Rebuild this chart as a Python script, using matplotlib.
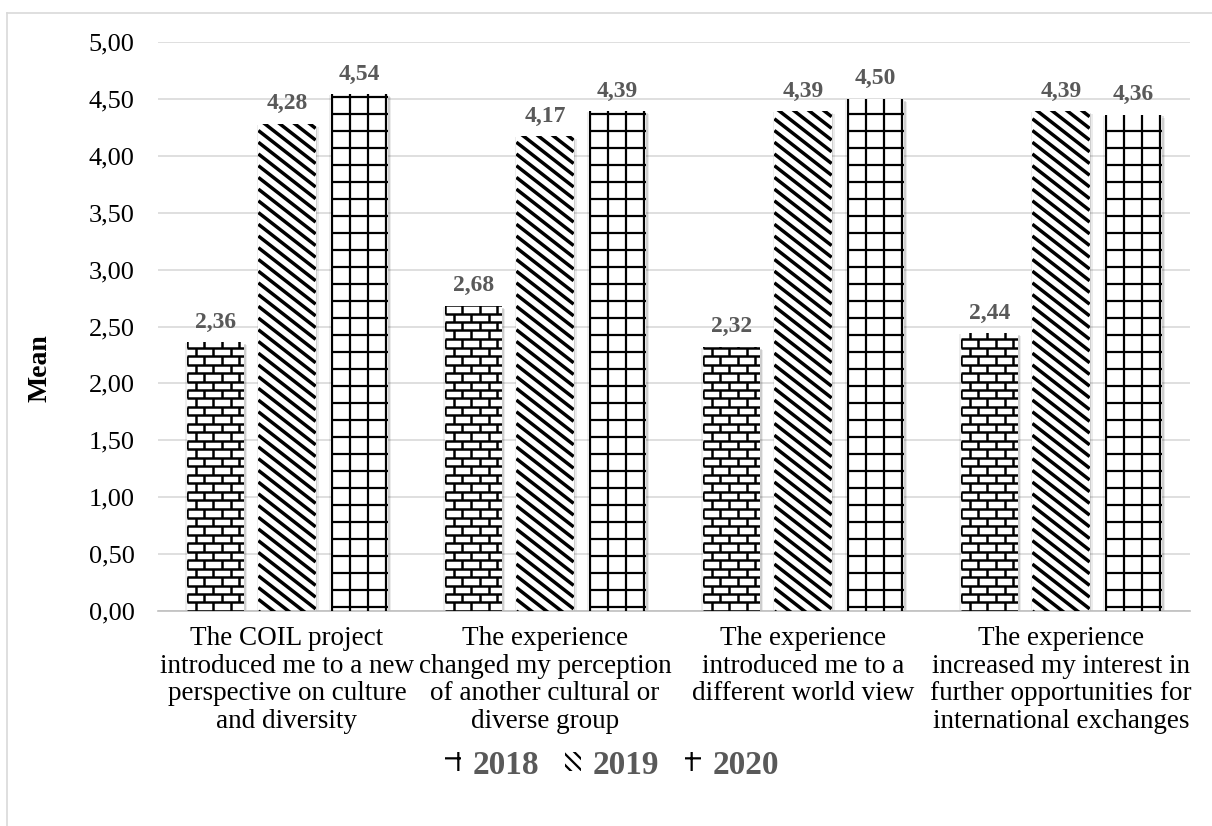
import numpy as np
import matplotlib
matplotlib.use('Agg')
import matplotlib.pyplot as plt
import matplotlib.patheffects as pe
from matplotlib.collections import LineCollection
from matplotlib.patches import Rectangle
from matplotlib.lines import Line2D

plt.rcParams['font.family'] = ['Liberation Serif', 'DejaVu Serif']
plt.rcParams['hatch.linewidth'] = 1.6

categories = [
    'The COIL project\nintroduced me to a new\nperspective on culture\nand diversity',
    'The experience\nchanged my perception\nof another cultural or\ndiverse group',
    'The experience\nintroduced me to a\ndifferent world view',
    'The experience\nincreased my interest in\nfurther opportunities for\ninternational exchanges',
]
years = ['2018', '2019', '2020']
mean_2018 = [2.36, 2.68, 2.32, 2.44]
mean_2019 = [4.28, 4.17, 4.39, 4.39]
mean_2020 = [4.54, 4.39, 4.50, 4.36]
yticks = np.arange(0, 5.01, 0.5)

DPI = 100
W, H = 1212, 826


def brick_segments(x0, y0, x1, y1, row_h=8.5, brick_w=17.5):
    segs = []
    n = int((y1 - y0) / row_h) + 2
    for i in range(n):
        y = y0 + i * row_h
        segs.append([(x0, y), (x1, y)])
        off = 9 if i % 2 == 0 else 9 + brick_w / 2
        for x in np.arange(x0 + off - brick_w, x1 + brick_w, brick_w):
            segs.append([(x, y), (x, y + row_h)])
    return segs


def stripe_segments(x0, y0, x1, y1, step=15.0, angle=38):
    t = np.tan(np.radians(angle))
    segs = []
    c = y0
    while c < y1 + t * (x1 - x0) + step * t:
        segs.append([(x0, c), (x1, c - t * (x1 - x0))])
        c += step * t
    return segs


def grid_segments(x0, y0, x1, y1, dx=18.0, dy=17.0):
    segs = []
    for x in np.arange(x0 + 1, x1, dx):
        segs.append([(x, y0), (x, y1)])
    for y in np.arange(y0 + 4, y1, dy):
        segs.append([(x0, y), (x1, y)])
    return segs


fig = plt.figure(figsize=(W / DPI, H / DPI), dpi=DPI)
ax = fig.add_axes([158 / W, 1 - 611 / H, (1190 - 158) / W, (611 - 42) / H])
ax.set_xlim(-0.5, len(categories) - 0.5)
ax.set_ylim(0, 5)

x = np.arange(len(categories))
width = 0.222
offsets = [-0.278, 0.0, 0.28]
series = [mean_2018, mean_2019, mean_2020]
patterns = [(brick_segments, 1.8), (stripe_segments, 2.5), (grid_segments, 1.6)]

shadow = [
    pe.SimplePatchShadow(offset=(2.2, -2.0), shadow_rgbFace='k', alpha=0.08),
    pe.SimplePatchShadow(offset=(1.2, -1.2), shadow_rgbFace='k', alpha=0.12),
    pe.SimplePatchShadow(offset=(-1.0, -0.6), shadow_rgbFace='k', alpha=0.07),
    pe.Normal(),
]

for vals, off, (seg_fn, lw) in zip(series, offsets, patterns):
    bars = ax.bar(x + off, vals, width, color='white', edgecolor='none',
                  zorder=2, path_effects=shadow)
    for bar, v in zip(bars, vals):
        bb = bar.get_window_extent()
        segs = np.array(seg_fn(bb.x0, bb.y0, bb.x1, bb.y1), dtype=float) / DPI
        lc = LineCollection(segs, colors='black', linewidths=lw,
                            transform=fig.dpi_scale_trans, zorder=3)
        ax.add_collection(lc, autolim=False)
        lc.set_clip_path(bar)
        ax.annotate(f'{v:.2f}'.replace('.', ','), (bar.get_x() + bar.get_width() / 2, v),
                    xytext=(0, 7), textcoords='offset points', ha='center', va='bottom',
                    fontsize=17, fontweight='bold', color='#595959')

ax.set_yticks(yticks)
ax.set_yticklabels([f'{t:.2f}'.replace('.', ',') for t in yticks], fontsize=19)
ax.set_xticks(x)
ax.set_xticklabels(categories, fontsize=19.5, linespacing=1.13)
ax.tick_params(axis='y', length=0, pad=17)
ax.tick_params(axis='x', length=0, pad=11)
ax.grid(axis='y', color='#d9d9d9', linewidth=1.2, zorder=0)
ax.set_axisbelow(True)
for side in ['top', 'right', 'left']:
    ax.spines[side].set_visible(False)
ax.spines['bottom'].set_color('#bfbfbf')
ax.spines['bottom'].set_linewidth(1.2)
ax.set_ylabel('Mean', fontsize=20, fontweight='bold')
ax.yaxis.set_label_coords(-0.102, 0.427)

handles = [
    Rectangle((0, 0), 1, 1, facecolor='white', edgecolor='black', linewidth=0, hatch='-|'),
    Rectangle((0, 0), 1, 1, facecolor='white', edgecolor='black', linewidth=0, hatch='\\\\\\'),
    Rectangle((0, 0), 1, 1, facecolor='white', edgecolor='black', linewidth=0, hatch='+'),
]
leg = fig.legend(handles, years, loc='center', bbox_to_anchor=(0.505, 1 - 765 / H),
                 ncol=3, frameon=False, handlelength=0.5, handleheight=0.5,
                 handletextpad=0.35, columnspacing=0.75,
                 prop={'family': 'Liberation Serif', 'size': 24, 'weight': 'bold'})
for txt in leg.get_texts():
    txt.set_color('#595959')

# thin frame around the chart area
fig.add_artist(Line2D([7 / W, 7 / W], [0, 1 - 13 / H], color='#d9d9d9', lw=1.2))
fig.add_artist(Line2D([7 / W, 1], [1 - 13 / H, 1 - 13 / H], color='#d9d9d9', lw=1.2))

fig.savefig('out.png', dpi=DPI, facecolor='white')
